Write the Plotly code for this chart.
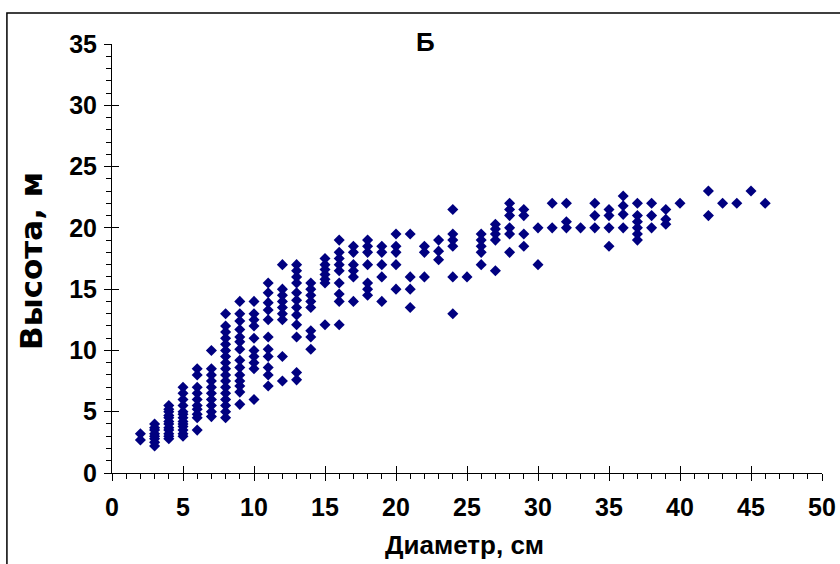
import plotly.graph_objects as go

diameter_cm = (
    [2] * 2 + [3] * 8 + [4] * 12 + [5] * 13 + [6] * 10 + [7] * 10 + [8] * 17 +
    [9] * 14 + [10] * 10 + [11] * 11 + [12] * 9 + [13] * 12 + [14] * 8 +
    [15] * 7 + [16] * 9 + [17] * 6 + [18] * 7 + [19] * 5 + [20] * 5 +
    [21] * 4 + [22] * 3 + [23] * 3 + [24] * 6 + [25] * 1 + [26] * 5 +
    [27] * 5 + [28] * 6 + [29] * 4 + [30] * 2 + [31] * 2 + [32] * 3 +
    [33] * 1 + [34] * 3 + [35] * 4 + [36] * 4 + [37] * 6 + [38] * 3 +
    [39] * 3 + [40] * 1 + [42] * 2 + [43] * 1 + [44] * 1 + [45] * 1 + [46] * 1
)
height_m = [
    3.2, 2.7,
    4.0, 3.7, 3.5, 3.2, 3.0, 2.8, 2.5, 2.2,
    5.5, 5.2, 5.0, 4.7, 4.5, 4.2, 4.0, 3.7, 3.5, 3.2, 3.0, 2.8,
    7.0, 6.5, 6.0, 5.5, 5.0, 4.8, 4.5, 4.2, 4.0, 3.8, 3.5, 3.2, 3.0,
    8.5, 8.0, 7.0, 6.5, 6.0, 5.5, 5.2, 4.8, 4.5, 3.5,
    10.0, 8.5, 8.0, 7.5, 7.0, 6.5, 6.0, 5.5, 5.0, 4.6,
    13.0, 12.0, 11.5, 11.0, 10.5, 10.0, 9.5, 9.0, 8.5, 8.0, 7.5, 7.0, 6.5, 6.0, 5.5, 5.0, 4.5,
    14.0, 13.0, 12.4, 11.7, 11.1, 10.7, 10.1, 9.2, 8.6, 8.0, 7.5, 7.1, 6.6, 5.6,
    14.0, 13.0, 12.5, 12.0, 11.0, 10.0, 9.5, 9.0, 8.5, 6.0,
    15.5, 14.7, 13.9, 13.3, 12.5, 11.1, 10.1, 9.5, 8.6, 8.0, 7.1,
    17.0, 15.0, 14.5, 14.0, 13.5, 13.0, 12.5, 9.5, 7.5,
    17.0, 16.5, 16.0, 15.5, 14.7, 14.1, 13.5, 12.9, 12.1, 11.1, 8.2, 7.6,
    15.5, 15.0, 14.5, 14.0, 13.5, 11.6, 11.1, 10.1,
    17.5, 17.0, 16.6, 16.2, 15.8, 15.5, 12.1,
    19.0, 18.0, 17.5, 17.0, 16.5, 15.5, 14.6, 14.0, 12.1,
    18.5, 18.0, 17.0, 16.5, 16.0, 14.0,
    19.0, 18.5, 18.0, 17.0, 15.5, 15.0, 14.5,
    18.5, 18.0, 17.0, 16.0, 14.0,
    19.5, 18.5, 18.0, 17.0, 15.0,
    19.5, 16.0, 15.0, 13.5,
    18.5, 18.0, 16.0,
    19.0, 18.1, 17.4,
    21.5, 19.5, 19.0, 18.5, 16.0, 13.0,
    16.0,
    19.5, 19.0, 18.5, 18.0, 17.0,
    20.3, 19.9, 19.5, 19.0, 16.5,
    22.0, 21.5, 21.0, 20.0, 19.5, 18.0,
    21.5, 21.0, 19.5, 18.5,
    20.0, 17.0,
    22.0, 20.0,
    22.0, 20.5, 20.0,
    20.0,
    22.0, 21.0, 20.0,
    21.5, 21.0, 20.0, 18.5,
    22.6, 21.8, 21.1, 20.0,
    22.0, 21.0, 20.5, 20.0, 19.5, 19.0,
    22.0, 21.0, 20.0,
    21.5, 20.7, 20.3,
    22.0,
    23.0, 21.0,
    22.0,
    22.0,
    23.0,
    22.0,
]

x_ticks = [0, 5, 10, 15, 20, 25, 30, 35, 40, 45, 50]
y_ticks = [0, 5, 10, 15, 20, 25, 30, 35]

title_text = "Б"
x_title = "Диаметр, см"
y_title = "Высота, м"

FONT = "Liberation Sans, Arial, sans-serif"
NAVY = "#000080"

fig = go.Figure()
fig.add_trace(go.Scatter(
    x=diameter_cm, y=height_m, mode="markers",
    marker=dict(symbol="diamond", size=8.5, color=NAVY, line=dict(width=0)),
    showlegend=False, hoverinfo="x+y",
))
# invisible trace so overlay axes (inner half of the crossing ticks) render
fig.add_trace(go.Scatter(x=[None], y=[None], xaxis="x2", yaxis="y2",
                         showlegend=False, hoverinfo="skip"))

tickfont = dict(family=FONT, size=25, color="black", weight="bold")

fig.update_layout(
    width=840, height=564,
    margin=dict(l=112, r=18, t=44, b=91, autoexpand=False),
    paper_bgcolor="white", plot_bgcolor="white",
    xaxis=dict(
        range=[0, 50], tickvals=x_ticks, ticktext=[str(v) for v in x_ticks],
        showgrid=False, zeroline=False, showline=True, linecolor="black", linewidth=1,
        ticks="outside", ticklen=7, tickwidth=1, tickcolor="black",
        minor=dict(ticks="outside", ticklen=5, dtick=1, tickcolor="black", showgrid=False),
        tickfont=tickfont, ticklabelstandoff=5, automargin=False,
    ),
    yaxis=dict(
        range=[0, 35], tickvals=y_ticks, ticktext=[str(v) for v in y_ticks],
        showgrid=False, zeroline=False, showline=True, linecolor="black", linewidth=1,
        ticks="outside", ticklen=7, tickwidth=1, tickcolor="black",
        minor=dict(ticks="outside", ticklen=5, dtick=1, tickcolor="black", showgrid=False),
        tickfont=tickfont, ticklabelstandoff=2, automargin=False,
    ),
    xaxis2=dict(
        overlaying="x", matches="x", anchor="y2", side="bottom",
        range=[0, 50], tickvals=x_ticks, showticklabels=False,
        showgrid=False, zeroline=False, showline=False, automargin=False,
        ticks="inside", ticklen=7, tickwidth=1, tickcolor="black",
    ),
    yaxis2=dict(
        overlaying="y", matches="y", anchor="x2", side="left",
        range=[0, 35], tickvals=y_ticks, showticklabels=False,
        showgrid=False, zeroline=False, showline=False, automargin=False,
        ticks="inside", ticklen=7, tickwidth=1, tickcolor="black",
    ),
    annotations=[
        dict(text=title_text, xref="paper", yref="paper", x=0.441, y=1.005,
             showarrow=False, font=dict(family=FONT, size=26, color="black", weight="bold"),
             xanchor="center", yanchor="middle"),
        dict(text=x_title, xref="paper", yref="paper", x=0.496, y=-0.168,
             showarrow=False, font=dict(family=FONT, size=26, color="black", weight="bold"),
             xanchor="center", yanchor="middle"),
        dict(text=y_title, xref="paper", yref="paper", x=-0.115, y=0.495, textangle=-90,
             showarrow=False, font=dict(family="DejaVu Sans, " + FONT, size=31, color="black", weight="bold"),
             xanchor="center", yanchor="middle"),
    ],
    shapes=[
        dict(type="rect", xref="paper", yref="paper", x0=-0.148, x1=1.2, y0=-0.4, y1=1.072,
             line=dict(color="black", width=1.5), fillcolor="rgba(0,0,0,0)", layer="above"),
    ],
)

fig.write_html("out.html", config={"displayModeBar": False},
               post_script="document.body.style.margin='0';")
